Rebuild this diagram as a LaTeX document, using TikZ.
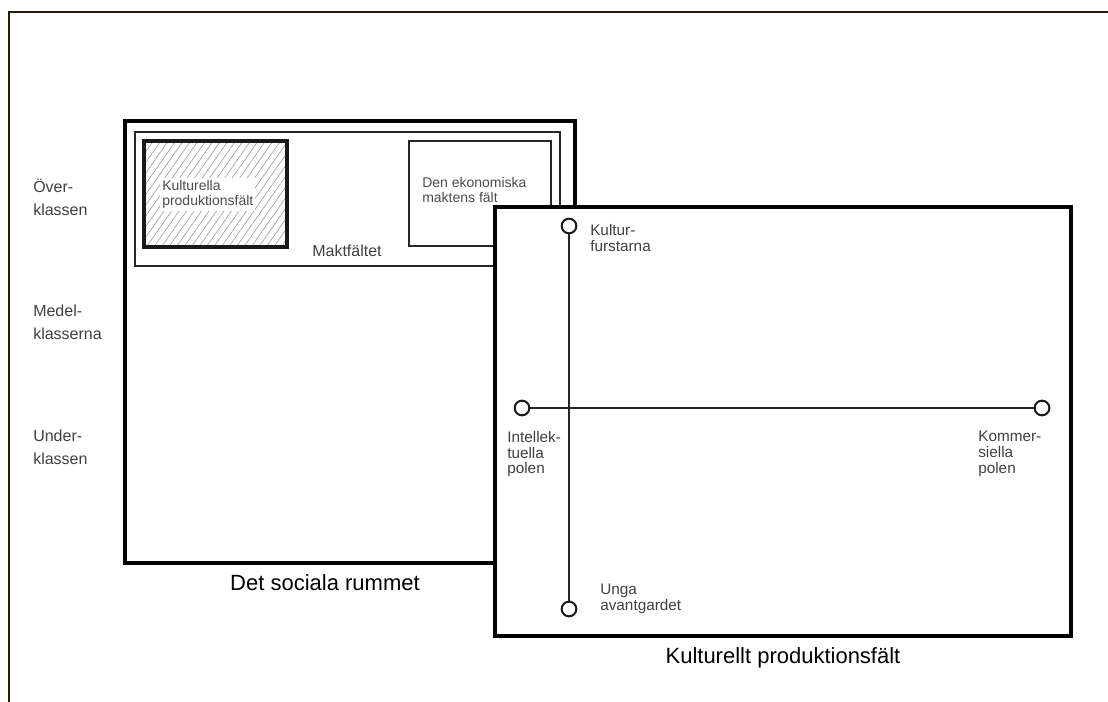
\documentclass[tikz,border=0pt]{standalone}
\usepackage{fontspec}
\setmainfont{Liberation Sans}
\usetikzlibrary{positioning}
\usetikzlibrary{patterns.meta}
\tikzset{
    frame/.style = {draw=black!80!brown, line width=1.1pt},
    thickbox/.style = {draw=black, line width=3pt},
    thinbox/.style = {draw=black!85, line width=0.9pt},
    hatchbox/.style = {draw=black!90, line width=2.4pt, pattern={Lines[angle=55,distance=4.6pt,line width=0.45pt]}, pattern color=black!40},
    pole/.style = {circle, draw=black!90, line width=1.5pt, fill=white, minimum size=11pt, inner sep=0pt},
    axis/.style = {-, line width=1.4pt, black!85},
    lbl/.style = {align=left, inner sep=0pt, text=black!75, font=\fontsize{11.5}{11.8}\selectfont},
    boxlbl/.style = {align=left, inner sep=1.5pt, text=black!70, font=\fontsize{10.5}{11.5}\selectfont},
    klass/.style = {align=left, inner sep=0pt, text=black!75, font=\fontsize{12}{17}\selectfont},
    caption/.style = {inner sep=0pt, text=black, font=\fontsize{16.5}{18}\selectfont}
}

\begin{document}
\begin{tikzpicture}[x=0.75pt,y=-0.75pt]
\useasboundingbox (0,0) rectangle (1108,702);
\draw[frame] (9,702) -- (9,12) -- (1108,12);

% det sociala rummet
\draw[thickbox] (125,121) rectangle (575,563);
\draw[thinbox] (135,132) rectangle (560,266);
\draw[hatchbox] (144,141) rectangle (287,247);
\draw[thinbox] (409,141) rectangle (551,246);
\node[boxlbl, fill=white, anchor=north west] (kprod) at (160,178) {Kulturella\\produktionsfält};
\node[boxlbl, anchor=north west] (ekon) at (420,175) {Den ekonomiska\\maktens fält};
\node[lbl, font=\fontsize{12}{14}\selectfont] (makt) at (347,251) {Maktfältet};
\node[caption] (rum) at (325,583) {Det sociala rummet};

\node[klass, anchor=north west] (over) at (33,179) {Över-\\klassen};
\node[klass, anchor=north west] (medel) at (33,305) {Medel-\\klasserna};
\node[klass, anchor=north west] (under) at (33,430) {Under-\\klassen};

% kulturellt produktionsfält
\draw[thickbox, fill=white] (495,207) rectangle (1071,636);
\node[pole] (furst) at (569,226) {};
\node[pole] (unga) at (569,609) {};
\node[pole] (intell) at (522,408) {};
\node[pole] (komm) at (1042,408) {};
\draw[axis] (furst) -- (unga);
\draw[axis] (intell) -- (komm);

\node[lbl, anchor=north west] (lfurst) at (590,224) {Kultur-\\furstarna};
\node[lbl, anchor=north west] (lintell) at (507,431) {Intellek-\\tuella\\polen};
\node[lbl, anchor=north west] (lkomm) at (978,431) {Kommer-\\siella\\polen};
\node[lbl, anchor=north west] (lunga) at (600,584) {Unga\\avantgardet};
\node[caption] (kult) at (783,658) {Kulturellt produktionsfält};

\end{tikzpicture}
\end{document}
